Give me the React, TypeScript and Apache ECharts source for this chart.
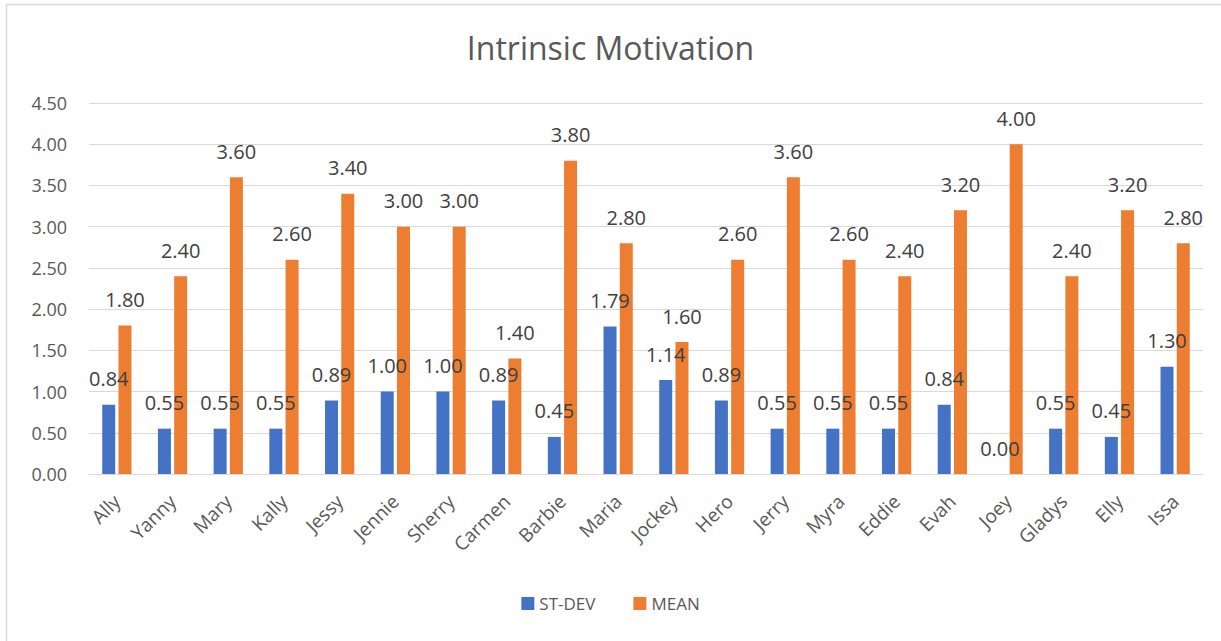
import React, { useEffect, useRef } from "react";
import * as echarts from "echarts";

const categories = ["Ally", "Yanny", "Mary", "Kally", "Jessy", "Jennie", "Sherry", "Carmen", "Barbie", "Maria", "Jockey", "Hero", "Jerry", "Myra", "Eddie", "Evah", "Joey", "Gladys", "Elly", "Issa"];
const stdev = [0.84, 0.55, 0.55, 0.55, 0.89, 1.0, 1.0, 0.89, 0.45, 1.79, 1.14, 0.89, 0.55, 0.55, 0.55, 0.84, 0.0, 0.55, 0.45, 1.3];
const mean = [1.8, 2.4, 3.6, 2.6, 3.4, 3.0, 3.0, 1.4, 3.8, 2.8, 1.6, 2.6, 3.6, 2.6, 2.4, 3.2, 4.0, 2.4, 3.2, 2.8];

const FONT = "'Open Sans', 'Noto Sans', sans-serif";
const TXT = "#595959";

export default function App() {
  const ref = useRef<HTMLDivElement>(null);
  useEffect(() => {
    if (!ref.current) return;
    const chart = echarts.init(ref.current, undefined, { renderer: "svg" });
    const label = {
      show: true,
      position: "top" as const,
      distance: 16,
      color: "#404040",
      fontSize: 20,
      fontFamily: FONT,
      formatter: (p: any) => Number(p.value).toFixed(2),
    };
    chart.setOption({
      animation: false,
      backgroundColor: "#ffffff",
      title: {
        text: "Intrinsic Motivation",
        left: "center",
        top: 26,
        textStyle: { fontSize: 32, fontWeight: "normal", color: TXT, fontFamily: FONT },
      },
      graphic: [
        {
          type: "rect",
          shape: { x: 6.5, y: 4.5, width: 1300, height: 700 },
          style: { fill: "none", stroke: "#d9d9d9", lineWidth: 1.5 },
          silent: true,
        },
      ],
      legend: {
        bottom: 24,
        left: "center",
        itemWidth: 13,
        itemHeight: 13,
        itemGap: 38,
        icon: "rect",
        textStyle: { fontSize: 17, color: TXT, fontFamily: FONT },
        data: ["ST-DEV", "MEAN"],
      },
      grid: { left: 89, right: 18, top: 103, bottom: 167, containLabel: false },
      xAxis: {
        type: "category",
        data: categories,
        axisLine: { lineStyle: { color: "#d9d9d9", width: 1 } },
        axisTick: { show: false },
        axisLabel: { rotate: 45, fontSize: 19, color: TXT, fontFamily: FONT, margin: 24, interval: 0 },
      },
      yAxis: {
        type: "value",
        min: 0,
        max: 4.5,
        interval: 0.5,
        axisLine: { show: false },
        axisTick: { show: false },
        splitLine: { lineStyle: { color: "#d9d9d9", width: 1 } },
        axisLabel: {
          fontSize: 18,
          color: TXT,
          fontFamily: FONT,
          margin: 22,
          formatter: (v: number) => v.toFixed(2),
        },
      },
      series: [
        {
          name: "ST-DEV",
          type: "bar",
          data: stdev,
          barWidth: 13,
          barGap: "25%",
          itemStyle: { color: "#4472C4" },
          label,
        },
        {
          name: "MEAN",
          type: "bar",
          data: mean,
          barWidth: 13,
          barGap: "25%",
          itemStyle: { color: "#ED7D31" },
          label,
        },
      ],
    });
    return () => chart.dispose();
  }, []);
  return (
    <div
      ref={ref}
      style={{ position: "fixed", left: 0, top: 0, width: 1221, height: 641 }}
    />
  );
}
